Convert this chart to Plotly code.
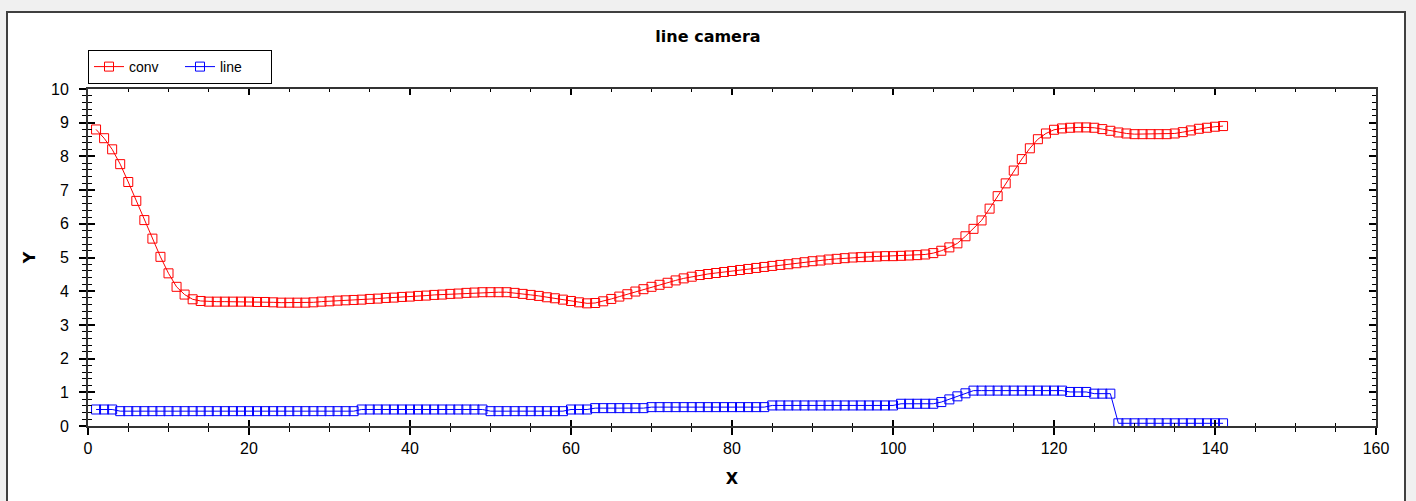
import plotly.graph_objects as go

x_vals = list(range(1, 142))

conv = [8.80, 8.54, 8.21, 7.77, 7.24, 6.68, 6.11, 5.56, 5.02, 4.53,
        4.13, 3.90, 3.76, 3.71, 3.69, 3.69, 3.69, 3.69, 3.69, 3.69,
        3.68, 3.68, 3.67, 3.66, 3.66, 3.66, 3.66, 3.67, 3.69, 3.70,
        3.72, 3.73, 3.74, 3.75, 3.77, 3.78, 3.80, 3.81, 3.83, 3.84,
        3.86, 3.87, 3.89, 3.90, 3.92, 3.93, 3.95, 3.96, 3.97, 3.97,
        3.97, 3.97, 3.95, 3.92, 3.89, 3.86, 3.82, 3.79, 3.75, 3.71,
        3.67, 3.64, 3.65, 3.70, 3.77, 3.84, 3.91, 3.99, 4.06, 4.13,
        4.19, 4.25, 4.32, 4.38, 4.43, 4.48, 4.51, 4.54, 4.57, 4.60,
        4.63, 4.66, 4.69, 4.72, 4.75, 4.78, 4.80, 4.83, 4.86, 4.89,
        4.91, 4.94, 4.96, 4.98, 5.00, 5.01, 5.02, 5.03, 5.04, 5.04,
        5.05, 5.06, 5.07, 5.09, 5.13, 5.20, 5.30, 5.42, 5.63, 5.85,
        6.10, 6.45, 6.82, 7.20, 7.58, 7.92, 8.24, 8.51, 8.68, 8.79,
        8.83, 8.85, 8.86, 8.86, 8.85, 8.81, 8.76, 8.71, 8.68, 8.66,
        8.66, 8.66, 8.66, 8.66, 8.68, 8.72, 8.77, 8.82, 8.85, 8.88,
        8.90]

line = [0.49, 0.49, 0.49, 0.44, 0.44, 0.44, 0.44, 0.44, 0.44, 0.44,
        0.44, 0.44, 0.44, 0.44, 0.44, 0.44, 0.44, 0.44, 0.44, 0.44,
        0.44, 0.44, 0.44, 0.44, 0.44, 0.44, 0.44, 0.44, 0.44, 0.44,
        0.44, 0.44, 0.44, 0.49, 0.49, 0.49, 0.49, 0.49, 0.49, 0.49,
        0.49, 0.49, 0.49, 0.49, 0.49, 0.49, 0.49, 0.49, 0.49, 0.44,
        0.44, 0.44, 0.44, 0.44, 0.44, 0.44, 0.44, 0.44, 0.44, 0.49,
        0.49, 0.49, 0.53, 0.53, 0.53, 0.53, 0.53, 0.53, 0.53, 0.56,
        0.56, 0.56, 0.56, 0.56, 0.56, 0.56, 0.56, 0.56, 0.56, 0.56,
        0.56, 0.56, 0.56, 0.56, 0.61, 0.61, 0.61, 0.61, 0.61, 0.61,
        0.61, 0.61, 0.61, 0.61, 0.61, 0.61, 0.61, 0.61, 0.61, 0.61,
        0.66, 0.66, 0.66, 0.66, 0.66, 0.71, 0.79, 0.88, 0.97, 1.05,
        1.05, 1.05, 1.05, 1.05, 1.05, 1.05, 1.05, 1.05, 1.05, 1.05,
        1.05, 1.01, 1.01, 1.01, 0.96, 0.96, 0.96, 0.08, 0.08, 0.08,
        0.08, 0.08, 0.08, 0.08, 0.08, 0.08, 0.08, 0.08, 0.08, 0.08,
        0.08]

x_range = [0, 160]
y_range = [0, 10]

TICK_FONT = dict(family="Liberation Sans, Arial", size=16, color="#000")
BOLD_FONT = dict(family="DejaVu Sans", size=16, color="#000")

fig = go.Figure()
fig.add_trace(go.Scatter(
    x=x_vals, y=conv, name="conv", mode="lines+markers",
    line=dict(color="#ff0000", width=1),
    marker=dict(symbol="square-open", size=9, color="#ff0000", line=dict(width=1)),
))
fig.add_trace(go.Scatter(
    x=x_vals, y=line, name="line", mode="lines+markers",
    line=dict(color="#0000ff", width=1),
    marker=dict(symbol="square-open", size=9, color="#0000ff", line=dict(width=1)),
))
# dummy trace to activate the overlay axes that draw the inner ticks
fig.add_trace(go.Scatter(x=[None], y=[None], xaxis="x2", yaxis="y2",
                         showlegend=False, hoverinfo="skip"))

L, R, T, B = 88, 40, 89, 75
W, H = 1416, 501
pw, ph = W - L - R, H - T - B

fig.add_shape(type="rect", xref="paper", yref="paper",
              x0=(7 - L) / pw, x1=(1405 - L) / pw,
              y0=-(H + 10 - T - ph) / ph, y1=(T + ph - 12) / ph,
              line=dict(color="#404040", width=2), fillcolor="white", layer="below")

fig.update_layout(
    width=W, height=H,
    margin=dict(l=L, r=R, t=T, b=B),
    paper_bgcolor="#f0f0f0",
    plot_bgcolor="white",
    title=dict(text="<b>line camera</b>", font=BOLD_FONT, x=0.5, xref="container",
               xanchor="center", y=1 - 36 / H, yref="container", yanchor="middle"),
    showlegend=True,
    legend=dict(orientation="h", x=0, xanchor="left", y=(ph + (T - 84)) / ph, yanchor="bottom",
                bgcolor="white", bordercolor="#000", borderwidth=1,
                font=dict(family="Liberation Sans, Arial", size=14, color="#000"),
                itemwidth=30, tracegroupgap=0, entrywidth=46),
    xaxis=dict(range=x_range, dtick=20, tick0=0, showgrid=False, zeroline=False,
               showline=True, linecolor="#333", linewidth=2, mirror=True,
               ticks="outside", ticklen=7, tickwidth=2, tickcolor="#000",
               minor=dict(dtick=5, ticks="outside", ticklen=4, tickwidth=1, tickcolor="#000", showgrid=False),
               tickfont=TICK_FONT, ticklabelstandoff=0,
               title=dict(text="<b>X</b>", font=BOLD_FONT, standoff=17)),
    yaxis=dict(range=y_range, dtick=1, tick0=0, showgrid=False, zeroline=False,
               showline=True, linecolor="#333", linewidth=2, mirror=True,
               ticks="outside", ticklen=7, tickwidth=2, tickcolor="#000",
               minor=dict(dtick=0.2, ticks="outside", ticklen=4, tickwidth=1, tickcolor="#000", showgrid=False),
               tickfont=TICK_FONT, ticklabelstandoff=7,
               title=dict(text="<b>Y</b>", font=BOLD_FONT, standoff=11)),
    xaxis2=dict(range=x_range, overlaying="x", anchor="y", side="bottom", dtick=20, tick0=0,
                showgrid=False, zeroline=False, showline=False, showticklabels=False,
                ticks="inside", ticklen=6, tickwidth=2, tickcolor="#000", mirror="ticks",
                minor=dict(dtick=5, ticks="inside", ticklen=3, tickwidth=1, tickcolor="#000", showgrid=False)),
    yaxis2=dict(range=y_range, overlaying="y", anchor="x", side="left", dtick=1, tick0=0,
                showgrid=False, zeroline=False, showline=False, showticklabels=False,
                ticks="inside", ticklen=7, tickwidth=2, tickcolor="#000", mirror="ticks",
                minor=dict(dtick=0.2, ticks="inside", ticklen=4, tickwidth=1, tickcolor="#000", showgrid=False)),
)

fig.write_html(
    "out.html",
    config={"displayModeBar": False},
    post_script="document.body.style.margin='0';document.body.style.background='#f0f0f0';document.body.style.overflow='hidden';",
)
